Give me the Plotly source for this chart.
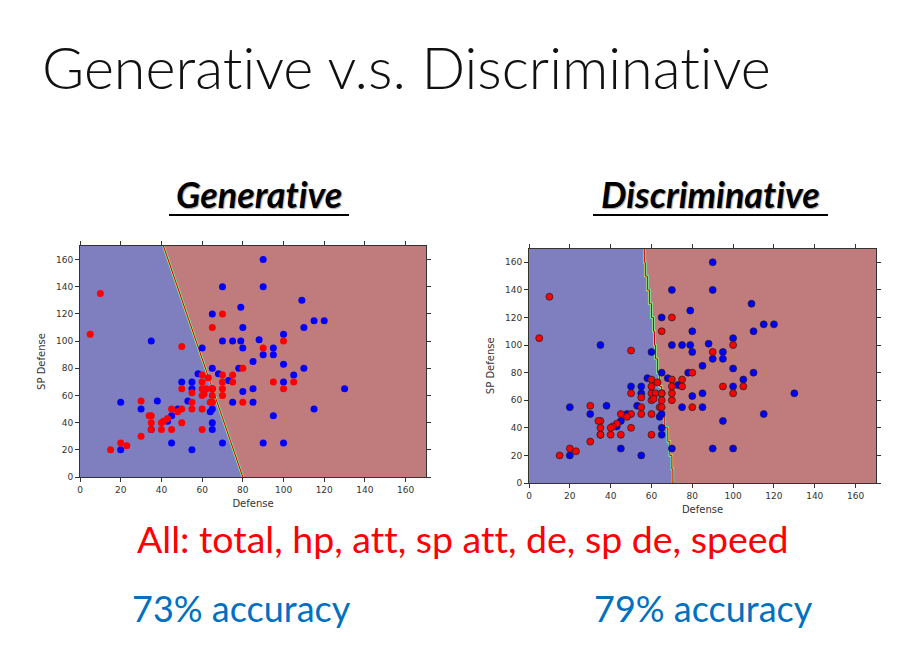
import plotly.graph_objects as go

# scatter data (Defense, SP Defense) - same points in both panels
blue_x = [90, 70, 90, 79, 65, 109, 80, 115, 120, 110, 35, 70, 75, 79, 80, 88, 60, 100, 95, 90,
          95, 85, 100, 65, 78, 110, 105, 58, 68, 73, 100, 130, 85, 80, 85, 75, 115, 95, 90, 100,
          70, 45, 55, 20, 20, 30, 38, 53, 50, 55, 55, 48, 45, 43, 64, 65, 65, 65, 35, 65]
blue_y = [160, 140, 140, 125, 120, 130, 110, 115, 115, 110, 100, 100, 100, 100, 95, 101, 95, 105, 95, 90,
          90, 85, 83, 80, 80, 80, 75, 76, 76, 71, 70, 65, 65, 63, 55, 55, 50, 45, 25, 25,
          25, 25, 20, 20, 55, 50, 56, 56, 70, 70, 65, 50, 45, 41, 48, 50, 40, 35, 35, 65]

red_x = [10, 5, 70, 65, 50, 90, 100, 80, 75, 70, 75, 70, 70, 70, 95, 105, 100, 80, 60, 63,
         60, 60, 62, 65, 60, 61, 65, 64, 65, 55, 55, 55, 60, 60, 50, 50, 48, 45, 45, 50,
         43, 41, 40, 40, 35, 34, 35, 35, 30, 30, 15, 20, 23]
red_y = [135, 105, 120, 110, 96, 95, 100, 80, 75, 75, 70, 70, 65, 60, 70, 70, 65, 55, 75, 73,
         70, 65, 65, 65, 60, 61, 60, 55, 55, 62, 55, 50, 50, 35, 65, 50, 48, 50, 35, 40,
         43, 41, 40, 35, 45, 45, 40, 35, 56, 30, 20, 25, 23]

# decision boundaries (bottom to top)
gen_bound_x = [80, 41]
gen_bound_y = [0, 170]
dis_bound_x = [71, 70.5, 70, 69, 68, 66.5, 65.5, 65, 64, 63, 62, 61.5, 61, 60, 59, 58, 57, 56.5]
dis_bound_y = [0, 10, 20, 30, 40, 50, 60, 70, 80, 90, 100, 110, 120, 130, 140, 150, 160, 170]

lim = [0, 170]
ticks = [0, 20, 40, 60, 80, 100, 120, 140, 160]

BLUE_BG = "rgb(127,127,192)"
RED_BG = "rgb(192,124,124)"
W, H = 920, 671
OFF = 8  # page body margin
ZW = "\u200c"  # stops Lato's "ti" / "tt" ligatures


def px(v):
    return (v - OFF) / W


def py(v):
    return 1 - (v - OFF) / H


fig = go.Figure()


def add_panel(bx, by, xa, ya, edge):
    # blue region = left of the boundary
    fx = [lim[0]] + bx + [lim[0]]
    fy = [lim[0]] + by + [lim[1]]
    shape = "hv" if len(bx) > 2 else "linear"
    fig.add_trace(go.Scatter(x=fx, y=fy, fill="toself", fillcolor=BLUE_BG, mode="none",
                             line_shape=shape, xaxis=xa, yaxis=ya, hoverinfo="skip"))
    for col, wd in [("#30d0e0", 3), ("#f0e040", 2), ("#c00000", 1)]:
        fig.add_trace(go.Scatter(x=bx, y=by, mode="lines", line=dict(color=col, width=wd, shape=shape),
                                 xaxis=xa, yaxis=ya, hoverinfo="skip"))
    mline = dict(color="#202020", width=0.7) if edge else dict(width=0)
    fig.add_trace(go.Scatter(x=blue_x, y=blue_y, mode="markers", xaxis=xa, yaxis=ya,
                             marker=dict(color="#0000ff", size=7, line=mline)))
    fig.add_trace(go.Scatter(x=red_x, y=red_y, mode="markers", xaxis=xa, yaxis=ya,
                             marker=dict(color="#ff0000", size=7, line=mline)))


add_panel(gen_bound_x, gen_bound_y, "x", "y", False)
add_panel(dis_bound_x, dis_bound_y, "x2", "y2", True)

axis_common = dict(range=lim, tickvals=ticks, ticks="outside", ticklen=4, tickcolor="#333",
                   showline=True, linecolor="#333", linewidth=1, mirror="ticks",
                   showgrid=False, zeroline=False, automargin=False,
                   tickfont=dict(family="DejaVu Sans", size=9, color="#333"))
xt = dict(text="Defense", font=dict(family="DejaVu Sans", size=10, color="#333"), standoff=6)
yt = dict(text="SP Defense", font=dict(family="DejaVu Sans", size=10, color="#333"), standoff=8)

fig.update_layout(
    width=W, height=H, margin=dict(l=0, r=0, t=0, b=0),
    paper_bgcolor="white", plot_bgcolor=RED_BG, showlegend=False,
    xaxis=dict(domain=[px(80), px(426)], anchor="y", title=xt, **axis_common),
    yaxis=dict(domain=[py(477), py(246)], anchor="x", title=yt, **axis_common),
    xaxis2=dict(domain=[px(529), px(876)], anchor="y2", title=xt, **axis_common),
    yaxis2=dict(domain=[py(483), py(248.5)], anchor="x2", title=yt, **axis_common),
)

# slide texts
fig.add_annotation(text="Generat" + ZW + "ive v.s. Discriminat" + ZW + "ive", x=px(40), y=py(67),
                   xref="paper", yref="paper", xanchor="left", yanchor="middle", showarrow=False,
                   font=dict(family="Lato", size=57.5, color="#111", weight=300))
for label, cx in [("Generat" + ZW + "ive", 259), ("Discriminat" + ZW + "ive", 710)]:
    fig.add_annotation(text="<b><i>" + label + "</i></b>", x=px(cx), y=py(194), xref="paper", yref="paper",
                       xanchor="center", yanchor="middle", showarrow=False,
                       font=dict(family="Lato", size=36, color="black", shadow="1px 1px 1px #aaa"))
fig.add_shape(type="line", xref="paper", yref="paper", x0=px(169), x1=px(349), y0=py(215), y1=py(215),
              line=dict(color="black", width=2))
fig.add_shape(type="line", xref="paper", yref="paper", x0=px(593), x1=px(828), y0=py(215), y1=py(215),
              line=dict(color="black", width=2))
att = "at" + ZW + "t"
fig.add_annotation(text="All: total, hp, " + att + ", sp " + att + ", de, sp de, speed", x=px(463), y=py(538),
                   xref="paper", yref="paper", xanchor="center", yanchor="middle", showarrow=False,
                   font=dict(family="Lato", size=37.5, color="#ff0000"))
for label, cx in [("73% accuracy", 242), ("79% accuracy", 703)]:
    fig.add_annotation(text=label, x=px(cx), y=py(608), xref="paper", yref="paper",
                       xanchor="center", yanchor="middle", showarrow=False,
                       font=dict(family="Lato", size=36, color="#0070c0"))

fig.write_html("out.html")
